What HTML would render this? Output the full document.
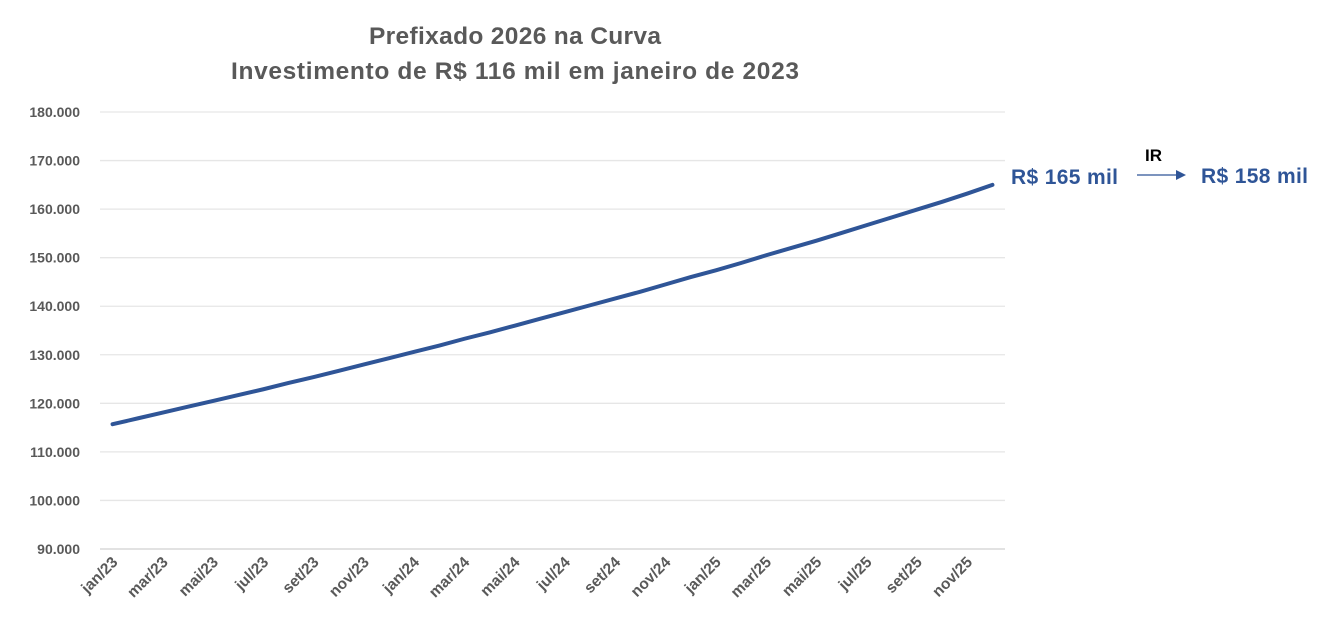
<!DOCTYPE html>
<html><head><meta charset="utf-8"><style>
body{margin:0;background:#fff;}
svg{display:block;font-family:"Liberation Sans",sans-serif;}
</style></head><body>
<svg id="chart" width="1336" height="633">
<text x="515" y="44" text-anchor="middle" font-size="24.5" font-weight="bold" fill="#595959" textLength="292">Prefixado 2026 na Curva</text>
<text x="515" y="79" text-anchor="middle" font-size="24.5" font-weight="bold" fill="#595959" textLength="568">Investimento de R$ 116 mil em janeiro de 2023</text>
<g id="grid"></g><g id="xl"></g><g id="yl"></g><g id="series"></g>
<text x="1011" y="184" font-size="21" font-weight="bold" fill="#2F5597" textLength="107">R$ 165 mil</text>
<text x="1145" y="161" font-size="17" font-weight="bold" fill="#000">IR</text>
<line x1="1137" y1="175" x2="1176" y2="175" stroke="#2F5597" stroke-width="1.3"/>
<polygon points="1176,170 1186,175 1176,180" fill="#2F5597"/>
<text x="1201" y="183" font-size="21" font-weight="bold" fill="#2F5597" textLength="107">R$ 158 mil</text>
</svg>
<script>
const categories=["jan/23","fev/23","mar/23","abr/23","mai/23","jun/23","jul/23","ago/23","set/23","out/23","nov/23","dez/23","jan/24","fev/24","mar/24","abr/24","mai/24","jun/24","jul/24","ago/24","set/24","out/24","nov/24","dez/24","jan/25","fev/25","mar/25","abr/25","mai/25","jun/25","jul/25","ago/25","set/25","out/25","nov/25","dez/25"];
const values=[115700,116900,118100,119300,120500,121700,122900,124200,125400,126700,128000,129300,130600,131900,133300,134600,136000,137400,138800,140200,141600,143000,144500,146000,147400,148900,150500,152000,153500,155100,156700,158300,159900,161500,163200,165000];
const yTicks=[90000,100000,110000,120000,130000,140000,150000,160000,170000,180000];
const yTickLabels=["90.000","100.000","110.000","120.000","130.000","140.000","150.000","160.000","170.000","180.000"];
const NS="http://www.w3.org/2000/svg";
const x0=100,x1=1005,yTop=112,yBot=549,ymin=90000,ymax=180000;
const bw=(x1-x0)/categories.length;
const xs=i=>x0+bw*(i+0.5);
const ys=v=>yBot-(v-ymin)/(ymax-ymin)*(yBot-yTop);
function mk(t,a,p){const e=document.createElementNS(NS,t);for(const k in a)e.setAttribute(k,a[k]);p.appendChild(e);return e;}
const grid=document.getElementById('grid'),yl=document.getElementById('yl'),xl=document.getElementById('xl'),ser=document.getElementById('series');
yTicks.forEach((v,i)=>{
 const l=mk('line',{x1:x0,x2:x1,y1:ys(v),y2:ys(v),stroke:i==0?'#d0d0d0':'#e6e6e6','stroke-width':1.3},grid);
 
 
 const t=mk('text',{x:80,y:ys(v)+5,'text-anchor':'end','font-size':14,'font-weight':'bold',fill:'#595959'},yl);
 t.textContent=yTickLabels[i];
 
 
});
categories.forEach((c,i)=>{
 if(i%2)return;
 const x=xs(i)+6,y=563;
 const t=mk('text',{x:x,y:y,'text-anchor':'end','font-size':15.5,'font-weight':'bold',fill:'#595959',transform:`rotate(-45 ${x} ${y})`},xl);
 t.textContent=c;
 
 
});
const p=mk('polyline',{points:values.map((v,i)=>xs(i)+','+ys(v)).join(' '),fill:'none',stroke:'#2F5597','stroke-width':4,'stroke-linejoin':'round','stroke-linecap':'round'},ser);


</script>
</body></html>
